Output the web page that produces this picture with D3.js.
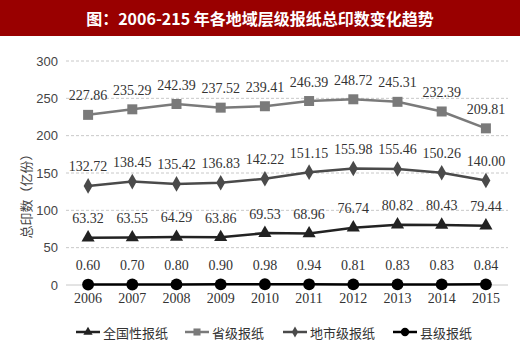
<!DOCTYPE html>
<html><head><meta charset="utf-8">
<script src="https://cdn.jsdelivr.net/npm/d3@7"></script>
<style>body{margin:0;background:#fff}svg{display:block}</style>
</head><body>
<script>
const years = ["2006","2007","2008","2009","2010","2011","2012","2013","2014","2015"];
const national = [63.32,63.55,64.29,63.86,69.53,68.96,76.74,80.82,80.43,79.44];
const provincial = [227.86,235.29,242.39,237.52,239.41,246.39,248.72,245.31,232.39,209.81];
const municipal = [132.72,138.45,135.42,136.83,142.22,151.15,155.98,155.46,150.26,140.00];
const county = [0.60,0.70,0.80,0.90,0.98,0.94,0.81,0.83,0.83,0.84];
const seriesNames = ["全国性报纸","省级报纸","地市级报纸","县级报纸"];
const yTicks = [0,50,100,150,200,250,300];
const title = "图：2006-215 年各地域层级报纸总印数变化趋势";
const yTitle = "总印数（亿份）";

const W=520,H=357;
const svg=d3.select("body").append("svg").attr("width",W).attr("height",H);
svg.append("rect").attr("x",0).attr("y",0).attr("width",W).attr("height",36).attr("fill","#990000");
svg.append("text").attr("x",W/2).attr("y",18).attr("text-anchor","middle").attr("dominant-baseline","central")
  .attr("fill","#fff").attr("font-family","'Noto Sans CJK SC'").attr("font-weight","bold").attr("font-size",16).text(title);

const x=d3.scaleBand().domain(years).range([66,508]);
const y=d3.scaleLinear().domain([0,300]).range([285,61]);
const numFont="'Liberation Serif','DejaVu Serif',serif";

// grid
svg.append("g").selectAll("line").data(yTicks.filter(d=>d>0)).join("line")
  .attr("x1",66).attr("x2",508).attr("y1",d=>y(d)).attr("y2",d=>y(d))
  .attr("stroke","#c8c8c8").attr("stroke-width",1).attr("stroke-dasharray","3,2");
svg.append("line").attr("x1",66).attr("x2",508).attr("y1",y(0)).attr("y2",y(0)).attr("stroke","#c8c8c8");

// y axis
const ya=svg.append("g").attr("transform","translate(58,0)").call(d3.axisLeft(y).tickValues(yTicks).tickSize(0).tickPadding(0));
ya.select(".domain").remove();
ya.selectAll("text").attr("font-family","'Liberation Sans',Arial,sans-serif").attr("font-size",13).attr("fill","#444");

// x axis
const xa=svg.append("g").attr("transform","translate(0,293)").call(d3.axisBottom(x).tickSize(0).tickPadding(0));
xa.select(".domain").remove();
xa.selectAll("text").attr("font-family",numFont).attr("font-size",14).attr("fill","#333").attr("dy","0.71em");

svg.append("text").attr("transform","translate(25,193) rotate(-90)").attr("text-anchor","middle").attr("dominant-baseline","central")
  .attr("font-family","'Noto Sans CJK SC'").attr("font-size",13).attr("fill","#444").text(yTitle);

const cx=d=>x(d)+x.bandwidth()/2;
const series=[
  {name:seriesNames[0],vals:national,color:"#222",mark:d3.symbolTriangle,size:75},
  {name:seriesNames[1],vals:provincial,color:"#7a7a7a",mark:d3.symbolSquare,size:100},
  {name:seriesNames[2],vals:municipal,color:"#4a4a4a",mark:d3.symbolDiamond,size:70},
  {name:seriesNames[3],vals:county,color:"#000",mark:d3.symbolCircle,size:110}
];
const line=d3.line().x((d,i)=>cx(years[i])).y(d=>y(d));
series.forEach(s=>{
  const g=svg.append("g");
  g.append("path").attr("d",line(s.vals)).attr("fill","none").attr("stroke",s.color).attr("stroke-width",2.5);
  g.selectAll("path.m").data(s.vals).join("path").attr("class","m")
    .attr("transform",(d,i)=>`translate(${cx(years[i])},${y(d)})`)
    .attr("d",d3.symbol().type(s.mark).size(s.size)).attr("fill",s.color);
  g.selectAll("text").data(s.vals).join("text")
    .attr("x",(d,i)=>cx(years[i])).attr("y",d=>y(d)-19)
    .attr("text-anchor","middle").attr("dominant-baseline","central")
    .attr("font-family",numFont).attr("font-size",14).attr("fill","#333")
    .text(d=>d.toFixed(2));
});

// legend
const legX=[76,185,283,393];
series.forEach((s,i)=>{
  const g=svg.append("g").attr("transform",`translate(${legX[i]},332)`);
  g.append("line").attr("x1",0).attr("x2",24).attr("stroke",s.color).attr("stroke-width",2.5);
  g.append("path").attr("transform","translate(12,0)").attr("d",d3.symbol().type(s.mark).size(s.size*0.5)).attr("fill",s.color);
  g.append("text").attr("x",27).attr("dominant-baseline","central").attr("font-family","'Noto Sans CJK SC'")
    .attr("font-size",13).attr("fill","#333").text(s.name);
});
</script>
</body></html>
